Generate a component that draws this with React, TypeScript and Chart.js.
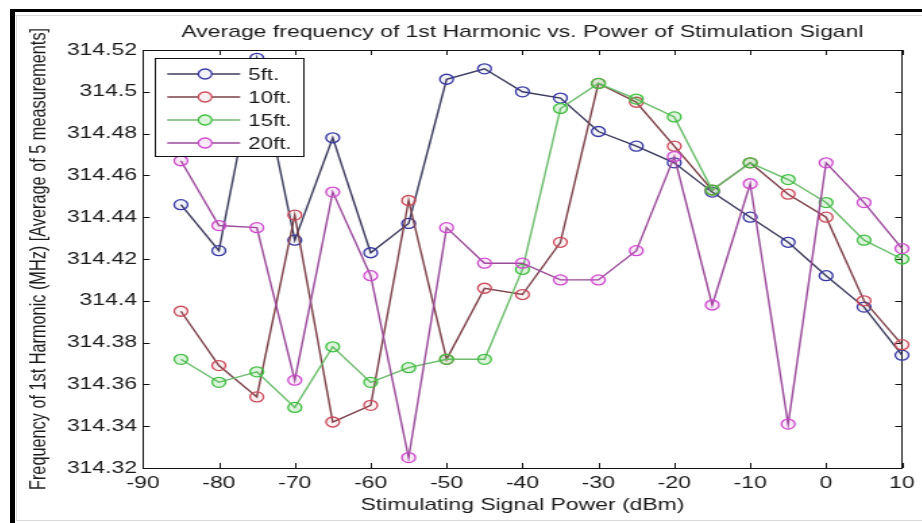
import { useEffect, useRef } from "react";
import { Chart, registerables } from "chart.js";

Chart.register(...registerables);

// Stimulating signal power (dBm)
const powerDbm = [-85, -80, -75, -70, -65, -60, -55, -50, -45, -40, -35, -30, -25, -20, -15, -10, -5, 0, 5, 10];

// Average 1st-harmonic frequency (MHz) per distance
const freq5ft = [314.446, 314.424, 314.516, 314.429, 314.478, 314.423, 314.437, 314.506, 314.511, 314.5, 314.497, 314.481, 314.474, 314.466, 314.452, 314.44, 314.428, 314.412, 314.397, 314.374];
const freq10ft = [314.395, 314.369, 314.354, 314.441, 314.342, 314.35, 314.448, 314.372, 314.406, 314.403, 314.428, 314.504, 314.495, 314.474, 314.453, 314.466, 314.451, 314.44, 314.4, 314.379];
const freq15ft = [314.372, 314.361, 314.366, 314.349, 314.378, 314.361, 314.368, 314.372, 314.372, 314.415, 314.492, 314.504, 314.4965, 314.488, 314.453, 314.466, 314.458, 314.447, 314.429, 314.42];
const freq20ft = [314.467, 314.436, 314.435, 314.362, 314.452, 314.412, 314.325, 314.435, 314.418, 314.418, 314.41, 314.41, 314.424, 314.469, 314.398, 314.456, 314.341, 314.466, 314.447, 314.425];

const seriesLabels = ["5ft.", "10ft.", "15ft.", "20ft."];

// Axis ranges and tick spacing
const xRange = [-90, 10];
const xStep = 10;
const yRange = [314.32, 314.52];
const yStep = 0.02;

const titleText = "Average frequency of 1st Harmonic vs. Power of Stimulation Siganl";
const xTitle = "Stimulating Signal Power (dBm)";
const yTitle = "Frequency of 1st Harmonic (MHz) [Average of 5 measurements]";

const FONT = "'Liberation Sans', Arial, Helvetica, sans-serif";
const TEXT = "#1a1a1a";
const STRETCH = 1.35;
const CW = 670;
const CH = 504;

const lineColors = ["#3c3c5e", "#7c4048", "#6cbc6c", "#9a4a9a"];
const markerColors = ["#3636a4", "#cc4a5a", "#3fbf3f", "#d048d0"];
const markerFills = ["rgba(54,54,164,0.06)", "rgba(204,74,90,0.08)", "rgba(63,191,63,0.18)", "rgba(208,72,208,0.12)"];

// MATLAB-style boxed axes with inward tick marks on all four sides
const boxTicks = {
  id: "boxTicks",
  beforeDatasetsDraw(chart: any) {
    const { ctx, chartArea: a, scales } = chart;
    const len = 5;
    ctx.save();
    ctx.strokeStyle = "#111";
    ctx.lineWidth = 1;
    ctx.beginPath();
    for (const t of scales.x.ticks) {
      const px = Math.round(scales.x.getPixelForValue(t.value)) + 0.5;
      ctx.moveTo(px, a.bottom);
      ctx.lineTo(px, a.bottom - len);
      ctx.moveTo(px, a.top);
      ctx.lineTo(px, a.top + len);
    }
    for (const t of scales.y.ticks) {
      const py = Math.round(scales.y.getPixelForValue(t.value)) + 0.5;
      ctx.moveTo(a.left, py);
      ctx.lineTo(a.left + len, py);
      ctx.moveTo(a.right, py);
      ctx.lineTo(a.right - len, py);
    }
    ctx.stroke();
    ctx.strokeRect(Math.round(a.left) + 0.5, Math.round(a.top) + 0.5, Math.round(a.right - a.left), Math.round(a.bottom - a.top));
    ctx.restore();
  },
};

// Boxed legend in the upper-left corner of the axes
const boxLegend = {
  id: "boxLegend",
  afterDatasetsDraw(chart: any) {
    const { ctx, chartArea: a } = chart;
    const x0 = a.left + 9;
    const y0 = a.top + 8;
    const w = 110;
    const h = 98;
    ctx.save();
    ctx.fillStyle = "#fff";
    ctx.fillRect(x0, y0, w, h);
    ctx.strokeStyle = "#111";
    ctx.lineWidth = 1;
    ctx.strokeRect(Math.round(x0) + 0.5, Math.round(y0) + 0.5, w, h);
    ctx.font = `16.5px ${FONT}`;
    ctx.textBaseline = "middle";
    ctx.textAlign = "left";
    chart.data.datasets.forEach((ds: any, i: number) => {
      const cy = y0 + 16 + i * 23;
      ctx.strokeStyle = ds.borderColor;
      ctx.lineWidth = 1.4;
      ctx.beginPath();
      ctx.moveTo(x0 + 9, cy);
      ctx.lineTo(x0 + 63, cy);
      ctx.stroke();
      ctx.beginPath();
      ctx.arc(x0 + 37, cy, 5, 0, Math.PI * 2);
      ctx.fillStyle = "#fff";
      ctx.fill();
      ctx.fillStyle = ds.pointBackgroundColor;
      ctx.fill();
      ctx.strokeStyle = ds.pointBorderColor;
      ctx.lineWidth = 1.3;
      ctx.stroke();
      ctx.fillStyle = TEXT;
      ctx.fillText(ds.label, x0 + 69, cy + 1);
    });
    ctx.restore();
  },
};

export default function App() {
  const canvasRef = useRef<HTMLCanvasElement | null>(null);

  useEffect(() => {
    if (!canvasRef.current) return;
    const series = [freq5ft, freq10ft, freq15ft, freq20ft];
    const chart = new Chart(canvasRef.current, {
      type: "line",
      data: {
        datasets: series.map((vals, i) => ({
          label: seriesLabels[i],
          data: powerDbm.map((x, k) => ({ x, y: vals[k] })),
          borderColor: lineColors[i],
          borderWidth: 1.4,
          pointStyle: "circle",
          pointRadius: 5,
          pointBorderWidth: 1.3,
          pointBorderColor: markerColors[i],
          pointBackgroundColor: markerFills[i],
          tension: 0,
          clip: false,
          order: series.length - i,
        })),
      },
      options: {
        animation: false,
        responsive: false,
        devicePixelRatio: 1,
        layout: { padding: { left: 0, right: 10, top: 0, bottom: 0 } },
        plugins: {
          legend: { display: false },
          tooltip: { enabled: false },
          title: {
            display: true,
            text: titleText,
            fullSize: false,
            color: TEXT,
            font: { family: FONT, size: 17, weight: "normal", lineHeight: 1.2 },
            padding: { top: 5.8, bottom: 7.8 },
          },
        },
        scales: {
          x: {
            type: "linear",
            min: xRange[0],
            max: xRange[1],
            grid: { display: false, drawTicks: false },
            border: { display: false },
            ticks: {
              stepSize: xStep,
              color: TEXT,
              padding: 5,
              maxRotation: 0,
              autoSkip: false,
              font: { family: FONT, size: 17 },
            },
            title: {
              display: true,
              text: xTitle,
              color: TEXT,
              font: { family: FONT, size: 17, lineHeight: 1.2 },
              padding: { top: 0, bottom: 4.8 },
            },
            afterFit: (s: any) => {
              s.height = 52;
            },
          },
          y: {
            type: "linear",
            min: yRange[0],
            max: yRange[1],
            grid: { display: false, drawTicks: false },
            border: { display: false },
            ticks: {
              stepSize: yStep,
              color: TEXT,
              padding: 4.4,
              autoSkip: false,
              font: { family: FONT, size: 17 },
              callback: (v: any) => String(Number(Number(v).toFixed(2))),
            },
            title: {
              display: true,
              text: yTitle,
              color: TEXT,
              font: { family: FONT, size: 16.3, lineHeight: 1.2 },
              padding: { top: 7.1, bottom: 0 },
            },
            afterFit: (s: any) => {
              s.width = 93.3;
            },
          },
        },
      },
      plugins: [boxTicks, boxLegend],
    } as any);
    return () => chart.destroy();
  }, []);

  return (
    <div style={{ position: "absolute", left: 0, top: 0, width: 922, height: 523, overflow: "hidden", background: "#fff" }}>
      <div style={{ position: "absolute", left: 10, top: 9, width: 912, height: 3, background: "#000" }} />
      <div style={{ position: "absolute", left: 10, top: 9, width: 5, height: 514, background: "#000" }} />
      <div style={{ position: "absolute", left: 15, top: 15, width: 907, height: 1, background: "#d9d9d9" }} />
      <div style={{ position: "absolute", left: 16, top: 15, width: 1, height: 505, background: "#d9d9d9" }} />
      <div style={{ position: "absolute", left: 16, top: 520, width: 906, height: 1, background: "#d9d9d9" }} />
      <div style={{ position: "absolute", left: 17, top: 16, width: CW, height: CH, transform: `scaleX(${STRETCH})`, transformOrigin: "0 0" }}>
        <canvas ref={canvasRef} width={CW} height={CH} style={{ display: "block" }} />
      </div>
    </div>
  );
}
